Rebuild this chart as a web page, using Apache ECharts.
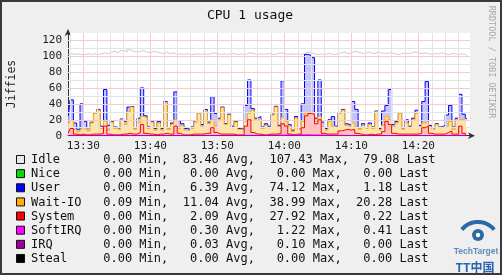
<!DOCTYPE html>
<html><head><meta charset="utf-8">
<script src="https://cdn.jsdelivr.net/npm/echarts@6/dist/echarts.min.js"></script>
<style>html,body{margin:0;padding:0;background:#efefef}#c{width:502px;height:275px}</style>
</head><body><div id="c"></div><script>
// time axis: minutes after 13:00, one sample every 30 s
const startMin = 27.75, stepMin = 0.5;
const tickMinutes = [30, 40, 50, 60, 70, 80];
const yTicks = [0, 20, 40, 60, 80, 100, 120];

const systemVals = [3,9,2,1,2,1,1,2,2,2, 3,12,2,1,1,1,2,2,3,2, 2,4,14,3,2,2,1,2,2,3, 2,2,12,3,1,1,1,2,2,2,
  2,3,3,10,4,2,2,2,2,2, 1,1,1,12,20,4,2,2,1,1, 2,2,2,3,15,12,2,1,2,2, 10,25,27.9,27,15,20,3,2,2,2,
  2,6,7,8,7,8,3,2,1,1, 2,1,2,2,5,18,14,3,2,2, 2,2,2,2,2,3,10,12,3,2, 2,2,2,4,6,2,2,12,3,0.22];
const waitVals = [12,10,6,4,6,8,5,14,26,30, 6,6,5,16,8,6,18,12,27,34, 6,12,10,20,7,15,6,14,5,38.99, 6,12,8,6,12,6,5,7,15,26,
  10,28,12,10,8,18,33,12,24,8, 16,7,6,6,8,28,18,20,8,12, 8,24,34,8,8,6,10,4,20,6, 8,3,2,2,3,4,8,5,16,10,
  8,22,25,5,4,8,8,6,12,8, 12,8,28,5,8,6,6,8,14,26, 6,14,8,18,26,8,6,6,8,6, 12,8,10,8,12,6,18,8,18,20.28];
const userVals = [10,26,8,3,32,9,4,1,1,1, 3,40,6,1,2,2,1,4,6,1, 2,6,36,2,2,1,2,2,2,1, 2,2,35,10,2,2,2,2,2,1,
  2,2,2,29,16,2,1,1,1,2, 1,1,1,20,42,2,2,2,2,2, 2,1,1,2,46,15,2,2,2,2, 22,74.12,71,69,4,46,6,2,2,12,
  2,1,1,2,2,27,22,2,2,1, 2,2,1,2,18,14,38,3,2,1, 2,4,2,2,4,2,27,50,2,2, 1,1,1,14,20,3,2,32,6,1.18];
const idleVals = [77,58,86,95,62,84,93,85,74,69, 91,46,90,87,95,95,86,87,72,69, 95,84,47,80,93,88,96,86,94,62, 93,88,47,84,87,94,94,91,84,73,
  89,69,86,55,75,80,67,87,76,91, 84,94,94,65,34,69,80,79,91,88, 91,75,66,91,34,69,89,95,79,92, 63,3,3,5,80,33,85,94,83,78,
  91,75,72,88,91,63,72,94,88,95, 88,92,74,95,72,66,46,89,84,74, 94,83,92,83,72,90,61,35,89,93, 88,93,90,76,65,92,80,51,75,79.08];
const softirqPts = [[27.75,0.3],[35,0.5],[45,0.2],[55,0.4],[63,1.2],[70,0.3],[80,0.2],[87.25,0.41]];
const irqPts = [[27.75,0],[45,0.05],[60,0.1],[75,0.03],[87.25,0]];

const legendNames = ['Idle','Nice','User','Wait-IO','System','SoftIRQ','IRQ','Steal'];
const legendColors = ['#e8e8e8','#00e000','#0000ff','#ffb000','#ff0000','#ff00ff','#a000a0','#000000'];
const legendMin = [0.00,0.00,0.00,0.09,0.00,0.00,0.00,0.00];
const legendAvg = [83.46,0.00,6.39,11.04,2.09,0.30,0.03,0.00];
const legendMax = [107.43,0.00,74.12,38.99,27.92,1.22,0.10,0.00];
const legendLast = [79.08,0.00,1.18,20.28,0.22,0.41,0.00,0.00];

const times = systemVals.map((_, i) => startMin + stepMin * i);
// cumulative (stacked) levels, bottom to top: System, Wait-IO, User, Idle
const cum = (...arrs) => times.map((t, i) => [t, arrs.reduce((s, a) => s + a[i], 0)]);
const lvlSys = cum(systemVals);
const lvlWait = cum(systemVals, waitVals);
const lvlUser = cum(systemVals, waitVals, userVals);
const lvlIdle = cum(systemVals, waitVals, userVals, idleVals);
const fmtTime = v => (13 + Math.floor(v / 60)) + ':' + String(v % 60).padStart(2, '0');

const chart = echarts.init(document.getElementById('c'), null, {renderer: 'canvas'});

// grid lines
const gridLines = [];
for (let m = 28; m <= 86; m += 2) {
  const major = m % 10 === 0;
  gridLines.push({xAxis: m, lineStyle: {color: major ? '#f3cccc' : '#e4e4e4', width: 1, type: 'solid'}});
}
for (let v = 10; v <= 120; v += 10) {
  const major = v % 20 === 0;
  gridLines.push({yAxis: v, lineStyle: {color: major ? '#f3cccc' : '#e4e4e4', width: 1, type: 'solid'}});
}

const mono = '"DejaVu Sans Mono", monospace';
const areaSeries = (name, data, line, fill, z) => ({
  name, type: 'line', data, symbol: 'none', z, step: 'middle',
  lineStyle: {color: line, width: 1}, itemStyle: {color: line},
  areaStyle: fill ? {color: fill, opacity: 1, origin: 'start'} : undefined, animation: false
});

const graphic = [
  {type: 'text', x: 250, y: 16, style: {text: 'CPU 1 usage', font: '13px ' + mono, fill: '#111', align: 'center', verticalAlign: 'middle'}},
  {type: 'text', x: 12, y: 84, rotation: Math.PI / 2, style: {text: 'Jiffies', font: '11.5px ' + mono, fill: '#222', align: 'center', verticalAlign: 'middle'}},
  {type: 'text', x: 491, y: 62, rotation: -Math.PI / 2, style: {text: 'RRDTOOL / TOBI OETIKER', font: '8.5px ' + mono, fill: '#a8a8a8', align: 'center', verticalAlign: 'middle'}},
  {type: 'rect', shape: {x: 1, y: 1, width: 500, height: 273}, style: {fill: 'none', stroke: '#3a3a3a', lineWidth: 2}, z: 100},
  // logo
  {type: 'arc', shape: {cx: 478, cy: 243, r: 21, startAngle: Math.PI * 1.22, endAngle: Math.PI * 1.78}, style: {stroke: '#2b6aa3', lineWidth: 4, fill: 'none'}},
  {type: 'circle', shape: {cx: 478, cy: 235, r: 6}, style: {fill: '#2b6aa3'}},
  {type: 'circle', shape: {cx: 478, cy: 235, r: 2.2}, style: {fill: '#ffffff'}},
  {type: 'text', x: 476, y: 252, style: {text: 'TechTarget', font: 'bold 8.5px "Liberation Sans"', fill: '#5d8cb8', align: 'center', verticalAlign: 'middle'}},
  {type: 'text', x: 475, y: 267, style: {text: 'TT中国', font: 'bold 12px "Noto Sans CJK SC"', fill: '#2a64b0', align: 'center', verticalAlign: 'middle'}}
];
const f = v => v.toFixed(2).padStart(5);
legendNames.forEach((n, i) => {
  const cy = 160 + i * 14.14;
  graphic.push({type: 'rect', shape: {x: 16.5, y: cy - 4.5, width: 8, height: 8}, style: {fill: legendColors[i], stroke: '#111', lineWidth: 1}});
  const line = n.padEnd(9) + f(legendMin[i]) + ' Min,  ' + f(legendAvg[i]) + ' Avg,  ' + f(legendMax[i]) + ' Max,  ' + f(legendLast[i]) + ' Last';
  graphic.push({type: 'text', x: 31, y: cy, style: {text: line, font: '12px ' + mono, fill: '#111', align: 'left', verticalAlign: 'middle'}});
});

chart.setOption({
  animation: false,
  backgroundColor: '#efefef',
  grid: {left: 68, right: 32, top: 33, bottom: 139.3, show: true, backgroundColor: '#ffffff', borderWidth: 0},
  xAxis: {
    type: 'value', min: 27.7, max: 87.7,
    splitLine: {show: false}, axisTick: {show: false},
    axisLine: {show: true, onZero: false, lineStyle: {color: '#333', width: 1}, symbol: ['none', 'arrow'], symbolSize: [5, 7], symbolOffset: [0, 5]},
    axisLabel: {customValues: tickMinutes, formatter: fmtTime, fontFamily: mono, fontSize: 11, color: '#222', margin: 5}
  },
  yAxis: {
    type: 'value', min: 0, max: 129, interval: 20,
    splitLine: {show: false}, axisTick: {show: false},
    axisLine: {show: true, lineStyle: {color: '#333', width: 1}, symbol: ['none', 'arrow'], symbolSize: [5, 7], symbolOffset: [0, 4]},
    axisLabel: {customValues: yTicks, fontFamily: mono, fontSize: 11, color: '#222', margin: 6}
  },
  series: [
    {type: 'line', data: [], z: 1, silent: true, animation: false,
      markLine: {silent: true, symbol: ['none', 'none'], animation: false, label: {show: false}, data: gridLines}},
    areaSeries('Idle', lvlIdle, '#cccccc', null, 2),
    areaSeries('User', lvlUser, '#0000ff', '#c4c4ff', 3),
    areaSeries('Wait-IO', lvlWait, '#ffb000', '#ffe4a8', 4),
    areaSeries('System', lvlSys, '#ff0000', '#ffc0c0', 5),
    {name: 'SoftIRQ', type: 'line', data: softirqPts, symbol: 'none', z: 7, lineStyle: {color: '#ff00ff', width: 1}, animation: false},
    {name: 'IRQ', type: 'line', data: irqPts, symbol: 'none', z: 8, lineStyle: {color: '#a000a0', width: 1}, animation: false}
  ],
  graphic
});
</script></body></html>
